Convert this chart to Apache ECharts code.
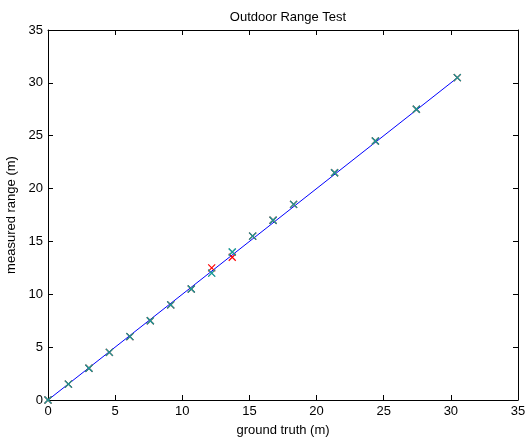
<!DOCTYPE html>
<html>
<head>
<meta charset="utf-8">
<script src="https://cdn.jsdelivr.net/npm/echarts@6/dist/echarts.min.js"></script>
<style>html,body{margin:0;padding:0;background:#fff}#c{width:528px;height:439px}</style>
</head>
<body>
<div id="c"></div>
<script>
// ground truth distances (m)
var groundTruth = [0, 1.52, 3.05, 4.57, 6.10, 7.62, 9.14, 10.67, 12.19, 13.72, 15.24, 16.76, 18.29, 21.34, 24.38, 27.43, 30.48];
// measured ranges per trial (m)
var trialRed  = [0, 1.5, 3.0, 4.5, 6.0, 7.5, 9.0, 10.5, 12.5, 13.5, 15.5, 17.0, 18.5, 21.5, 24.5, 27.5, 30.5];
var trialDark = [0, 1.5, 3.0, 4.5, 6.0, 7.5, 9.0, 10.5, 12.0, 14.0, 15.5, 17.0, 18.5, 21.5, 24.5, 27.5, 30.5];
var trialCyan = [0, 1.5, 3.0, 4.5, 6.0, 7.5, 9.0, 10.5, 12.0, 14.0, 15.5, 17.0, 18.5, 21.5, 24.5, 27.5, 30.5];
var idealLine = [0, 30.48];
var axisTicks = [0, 5, 10, 15, 20, 25, 30, 35];

var FONT = 'Liberation Sans, Arial, sans-serif';
function pairs(xs, ys){ return xs.map(function(x,i){ return [x, ys[i]]; }); }
var xMark = 'path://M0,0L10,10M10,0L0,10';
function markSeries(name, ys, col, op){
  return {
    name: name, type: 'scatter', data: pairs(groundTruth, ys),
    symbol: xMark, symbolSize: 7,
    itemStyle: {color: 'rgba(0,0,0,0)', borderColor: col, borderWidth: 1.2, opacity: op},
    z: 3
  };
}
var axisBase = {
  type: 'value', min: axisTicks[0], max: axisTicks[axisTicks.length-1], interval: 5,
  splitLine: {show: false},
  axisLine: {show: true, onZero: false, lineStyle: {color: '#000', width: 1}},
  axisTick: {show: true, inside: true, length: 5, lineStyle: {color: '#000'}},
  axisLabel: {show: true, color: '#000', fontFamily: FONT, fontSize: 13}
};
function ax(extra){ var o = JSON.parse(JSON.stringify(axisBase)); for (var k in extra){ o[k] = extra[k]; } return o; }

var chart = echarts.init(document.getElementById('c'), null, {renderer: 'canvas'});
chart.setOption({
  animation: false,
  backgroundColor: '#fff',
  title: {text: 'Outdoor Range Test', left: 283, top: 6, textAlign: 'center',
    textStyle: {fontFamily: FONT, fontSize: 13, fontWeight: 'normal', color: '#000'}},
  grid: {left: 48, right: 10, top: 30, bottom: 39, show: false, containLabel: false, outerBoundsMode: 'none'},
  xAxis: [
    ax({position: 'bottom', name: 'ground truth (m)', nameLocation: 'middle', nameGap: 24,
        nameTextStyle: {fontFamily: FONT, fontSize: 13, color: '#000'},
        axisLabel: {show: true, color: '#000', fontFamily: FONT, fontSize: 13, margin: 5}}),
    ax({position: 'top', axisLabel: {show: false}})
  ],
  yAxis: [
    ax({position: 'left', name: 'measured range (m)', nameLocation: 'middle', nameGap: 26,
        nameTextStyle: {fontFamily: FONT, fontSize: 13, color: '#000'},
        axisLabel: {show: true, color: '#000', fontFamily: FONT, fontSize: 13, margin: 5}}),
    ax({position: 'right', axisLabel: {show: false}})
  ],
  series: [
    {type: 'line', data: pairs(idealLine, idealLine), symbol: 'none',
     lineStyle: {color: '#0000ff', width: 1}, z: 2},
    markSeries('red', trialRed, '#ff0000', 1),
    markSeries('dark', trialDark, '#2f6f6a', 1),
    markSeries('cyan', trialCyan, '#00bfbf', 0.55)
  ]
});
</script>
</body>
</html>
